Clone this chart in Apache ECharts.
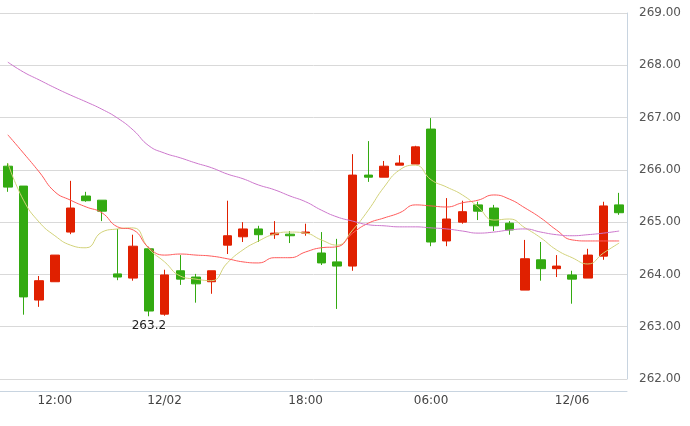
<!DOCTYPE html>
<html><head><meta charset="utf-8">
<script src="https://cdn.jsdelivr.net/npm/echarts@6/dist/echarts.min.js"></script>
<style>html,body{margin:0;padding:0;background:#fff}#c{width:690px;height:426px}</style>
</head><body><div id="c"></div>
<script>
const categories = ['c1','c2','c3','12:00','c5','c6','c7','c8','c9','c10','12/02','c12','c13','c14','c15','c16','c17','c18','c19','18:00','c21','c22','c23','c24','c25','c26','c27','06:00','c29','c30','c31','c32','c33','c34','c35','c36','12/06','c38','c39','c40'];
const shownLabels = ['12:00','12/02','18:00','06:00','12/06'];
// [open, close, low, high]
const ohlc = [
[266.07,265.67,265.58,266.13],[265.69,263.57,263.23,265.69],[263.51,263.88,263.38,263.97],[263.86,264.37,263.86,264.37],
[264.81,265.27,264.77,265.79],[265.50,265.41,265.39,265.58],[265.42,265.21,265.02,265.42],[264.01,263.95,263.89,264.87],
[263.93,264.54,263.88,264.76],[264.49,263.30,263.20,264.53],[263.24,263.99,263.21,264.09],[264.07,263.91,263.80,264.37],
[263.95,263.82,263.46,264.01],[263.86,264.07,263.63,264.07],[264.56,264.74,264.39,265.41],[264.72,264.87,264.62,265.00],
[264.87,264.76,264.62,264.93],[264.76,264.79,264.68,265.02],[264.77,264.74,264.60,264.83],[264.79,264.81,264.74,264.97],
[264.41,264.22,264.18,264.81],[264.24,264.16,263.34,264.68],[264.16,265.90,264.07,266.30],[265.90,265.86,265.77,266.55],
[265.86,266.07,265.86,266.17],[266.09,266.13,266.09,266.28],[266.11,266.44,266.11,266.46],[266.78,264.62,264.54,266.99],
[264.64,265.06,264.54,265.46],[265.00,265.20,264.97,265.41],[265.33,265.21,265.04,265.39],[265.27,264.93,264.83,265.33],
[264.98,264.85,264.76,265.02],[263.70,264.30,263.70,264.66],[264.28,264.11,263.88,264.62],[264.11,264.16,263.95,264.37],
[263.99,263.91,263.44,264.07],[263.93,264.37,263.93,264.49],[264.35,265.31,264.28,265.39],[265.33,265.18,265.14,265.56]
];
const maShort = [266.13,265.42,265.00,264.74,264.56,264.51,264.81,264.87,264.89,264.49,264.24,263.97,263.91,263.88,264.22,264.47,264.64,264.77,264.81,264.79,264.66,264.56,264.85,265.23,265.67,266.00,266.09,265.81,265.67,265.52,265.29,265.04,265.06,264.89,264.70,264.47,264.32,264.20,264.41,264.60];
const maMid = [266.67,266.32,265.96,265.58,265.42,265.29,265.18,264.91,264.85,264.51,264.37,264.39,264.37,264.35,264.30,264.24,264.22,264.32,264.32,264.43,264.51,264.53,264.79,264.98,265.08,265.18,265.33,265.31,265.29,265.37,265.42,265.52,265.44,265.27,265.08,264.85,264.66,264.64,264.64,264.64];
const maLong = [268.06,267.87,267.72,267.57,267.43,267.30,267.16,266.99,266.76,266.46,266.32,266.23,266.13,266.04,265.92,265.83,265.71,265.62,265.50,265.39,265.23,265.10,265.02,264.95,264.93,264.91,264.91,264.89,264.87,264.83,264.79,264.81,264.85,264.87,264.81,264.76,264.74,264.76,264.79,264.83];
const yTicks = [262,263,264,265,266,267,268,269];

const chart = echarts.init(document.getElementById('c'));
const line = (d,c)=>({type:'line',data:d,smooth:0.5,symbol:'none',lineStyle:{color:c,width:1},z:3});
chart.setOption({
  animation:false,
  grid:{left:0,right:63,top:13,bottom:47},
  xAxis:{type:'category',data:categories,boundaryGap:true,offset:12,
    axisLine:{lineStyle:{color:'#c8d4e0'}},
    axisTick:{inside:true,length:12,alignWithLabel:true,lineStyle:{color:'#c8d4e0'},interval:(i,v)=>shownLabels.includes(v)},
    axisLabel:{color:'#444',fontSize:12,fontFamily:'DejaVu Sans',margin:4,interval:(i,v)=>shownLabels.includes(v)},
    splitLine:{show:false}},
  yAxis:{type:'value',position:'right',min:yTicks[0],max:yTicks[yTicks.length-1],interval:1,
    axisLine:{show:true,lineStyle:{color:'#c8d4e0'}},axisTick:{show:false},
    axisLabel:{color:'#555',fontSize:12,fontFamily:'DejaVu Sans',margin:12,formatter:v=>v.toFixed(2)},
    splitLine:{lineStyle:{color:'#d9d9d9'}}},
  series:[
    {type:'candlestick',data:ohlc,barWidth:9,
     itemStyle:{color:'#e02000',color0:'#33aa11',borderColor:'#e02000',borderColor0:'#33aa11',borderWidth:1},
     markPoint:{symbol:'circle',symbolSize:0,data:[{coord:[9,263.2],value:'263.2'}],
       label:{show:true,position:'bottom',distance:4,color:'#222',fontSize:12,fontFamily:'DejaVu Sans',formatter:'263.2'}}},
    line(maShort,'#d2d27a'),
    line(maMid,'#ff5a5a'),
    line(maLong,'#cc77cc')
  ]
});
</script></body></html>
